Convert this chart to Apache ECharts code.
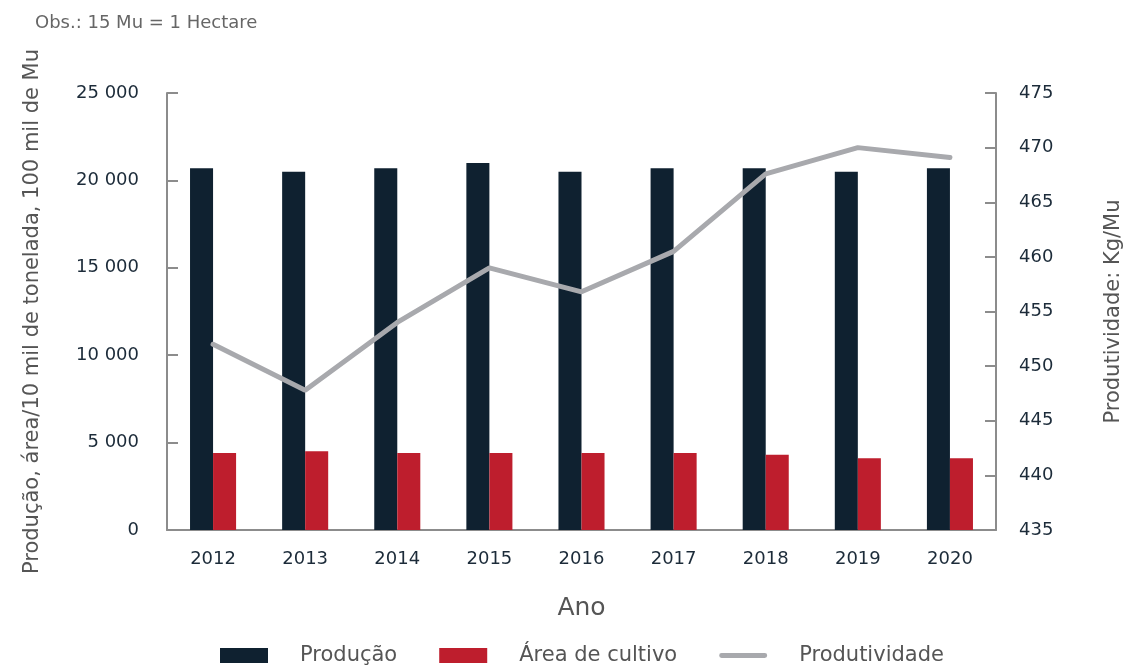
<!DOCTYPE html>
<html>
<head>
<meta charset="utf-8">
<script src="https://cdn.jsdelivr.net/npm/echarts@6/dist/echarts.min.js"></script>
<style>
  html, body { margin: 0; padding: 0; background: #fff; }
  #chart { width: 1126px; height: 666px; }
</style>
</head>
<body>
<div id="chart"></div>
<script>
// dados
const anos = ['2012', '2013', '2014', '2015', '2016', '2017', '2018', '2019', '2020']
const producao = [20700, 20500, 20700, 21000, 20500, 20700, 20700, 20500, 20700]
const areaCultivo = [4400, 4500, 4400, 4400, 4400, 4400, 4300, 4100, 4100]
const produtividade = [452, 447.8, 454, 459, 456.8, 460.5, 467.6, 470, 469.1]

const FONT = 'DejaVu Sans'
const axisCor = '#8c8c8c'
const lineIcon = 'path://M2.5,0 L47.5,0 A2.5,2.5 0 0 1 47.5,5 L2.5,5 A2.5,2.5 0 0 1 2.5,0 Z'

const chart = echarts.init(document.getElementById('chart'))
chart.setOption({
  animation: false,
  textStyle: { fontFamily: FONT },
  graphic: [{
    type: 'text',
    left: 35,
    top: 14,
    style: { text: 'Obs.: 15 Mu = 1 Hectare', fill: '#666', font: '18px "' + FONT + '"' }
  }],
  legend: {
    top: 640,
    left: 215,
    itemWidth: 48,
    itemHeight: 15,
    itemGap: 42,
    icon: 'rect',
    textStyle: { fontSize: 21, color: '#555', padding: [0, 0, 0, 27] },
    data: ['Produção', 'Área de cultivo', { name: 'Produtividade', icon: lineIcon }]
  },
  grid: { left: 167, right: 130, top: 93, bottom: 136, outerBoundsMode: 'none' },
  xAxis: {
    type: 'category',
    data: anos,
    name: 'Ano',
    nameLocation: 'middle',
    nameGap: 66,
    nameTextStyle: { fontSize: 25, color: '#555' },
    axisLine: { lineStyle: { color: axisCor, width: 2 } },
    axisTick: { inside: true, length: 11, lineStyle: { color: axisCor, width: 2 } },
    axisLabel: { fontSize: 18, color: '#1c2b39', margin: 20 }
  },
  yAxis: [{
    type: 'value',
    min: 0,
    max: 25000,
    interval: 5000,
    name: 'Produção, área/10 mil de tonelada, 100 mil de Mu',
    nameLocation: 'middle',
    nameGap: 124,
    nameTextStyle: { fontSize: 21, color: '#555' },
    axisLine: { show: true, lineStyle: { color: axisCor, width: 2 } },
    axisTick: { show: true, inside: true, length: 11, lineStyle: { color: axisCor, width: 2 } },
    axisLabel: {
      fontSize: 18,
      color: '#1c2b39',
      margin: 28,
      formatter: v => String(v).replace(/\B(?=(\d{3})+(?!\d))/g, ' ')
    },
    splitLine: { show: false }
  }, {
    type: 'value',
    min: 435,
    max: 475,
    interval: 5,
    position: 'right',
    name: 'Produtividade: Kg/Mu',
    nameLocation: 'middle',
    nameGap: 107,
    nameRotate: 90,
    nameTextStyle: { fontSize: 21, color: '#555' },
    axisLine: { show: true, lineStyle: { color: axisCor, width: 2 } },
    axisTick: { show: true, inside: true, length: 11, lineStyle: { color: axisCor, width: 2 } },
    axisLabel: { fontSize: 18, color: '#1c2b39', margin: 23 },
    splitLine: { show: false }
  }],
  series: [{
    name: 'Produção',
    type: 'bar',
    data: producao,
    barGap: '0%',
    barCategoryGap: '50%',
    itemStyle: { color: '#0f2130' }
  }, {
    name: 'Área de cultivo',
    type: 'bar',
    data: areaCultivo,
    itemStyle: { color: '#be1e2d' }
  }, {
    name: 'Produtividade',
    type: 'line',
    yAxisIndex: 1,
    data: produtividade,
    symbol: 'none',
    lineStyle: { color: '#a8a9ad', width: 5, cap: 'round' },
    itemStyle: { color: '#a8a9ad' }
  }]
})
</script>
</body>
</html>
